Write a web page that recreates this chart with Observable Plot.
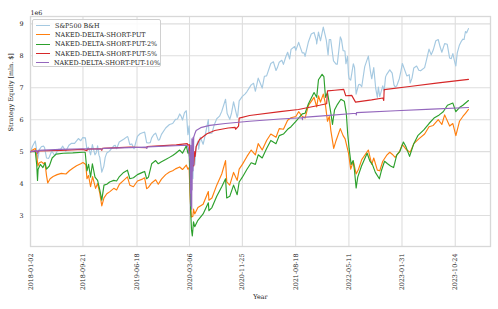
<!DOCTYPE html>
<html><head><meta charset="utf-8">
<script src="https://cdn.jsdelivr.net/npm/d3@7"></script>
<script src="https://cdn.jsdelivr.net/npm/@observablehq/plot@0.6"></script>
<style>
body{margin:0;background:#fff;}
#wrap{position:relative;width:498px;height:309px;font-family:"DejaVu Serif",serif;}
#legend{position:absolute;left:32px;top:19px;width:129px;height:48px;border:1px solid #d0d0d0;border-radius:2px;background:rgba(255,255,255,0.85);box-sizing:border-box;padding-top:1px;}
.row{height:9.3px;display:flex;align-items:center;font-size:6.4px;color:#222;white-space:nowrap;}
.sw{display:inline-block;width:14px;margin-left:3px;margin-right:5px;border-top:1.5px solid;}
</style></head><body><div id="wrap"></div><script>
const seriesNames = ["S&P500 B&H","NAKED-DELTA-SHORT-PUT","NAKED-DELTA-SHORT-PUT-2%","NAKED-DELTA-SHORT-PUT-5%","NAKED-DELTA-SHORT-PUT-10%"];
const seriesColors = ["#a5c9e1","#ff7f0e","#2ca02c","#d62728","#9467bd"];
const xTickLabels = ["2018-01-02","2018-09-21","2019-06-18","2020-03-06","2020-11-25","2021-08-18","2022-05-11","2023-01-31","2023-10-24"];
const yTicks = [3,4,5,6,7,8,9];

const spDates = ["2018-01-02","2018-01-12","2018-01-26","2018-02-08","2018-02-16","2018-02-26","2018-03-09","2018-03-23","2018-04-06","2018-04-18","2018-05-03","2018-05-21","2018-06-12","2018-06-27","2018-07-13","2018-07-26","2018-08-10","2018-08-29","2018-09-20","2018-10-03","2018-10-11","2018-10-18","2018-10-29","2018-11-07","2018-11-20","2018-12-03","2018-12-14","2018-12-24","2019-01-03","2019-01-18","2019-02-01","2019-02-22","2019-03-08","2019-03-21","2019-04-12","2019-04-30","2019-05-13","2019-06-03","2019-06-20","2019-07-15","2019-07-26","2019-08-05","2019-08-14","2019-08-30","2019-09-19","2019-10-02","2019-10-18","2019-11-08","2019-11-27","2019-12-13","2019-12-27","2020-01-17","2020-01-31","2020-02-19","2020-02-27","2020-03-04","2020-03-09","2020-03-12","2020-03-16","2020-03-23","2020-03-26","2020-04-01","2020-04-17","2020-05-13","2020-06-08","2020-06-11","2020-06-26","2020-07-20","2020-08-14","2020-09-02","2020-09-23","2020-10-12","2020-10-30","2020-11-09","2020-11-25","2020-12-18","2021-01-08","2021-01-29","2021-02-12","2021-03-04","2021-03-26","2021-04-16","2021-05-12","2021-05-28","2021-06-18","2021-07-09","2021-07-26","2021-08-19","2021-09-02","2021-09-20","2021-10-04","2021-10-21","2021-11-18","2021-12-01","2021-12-10","2021-12-20","2022-01-03","2022-01-27","2022-02-09","2022-02-23","2022-03-08","2022-03-29","2022-04-12","2022-04-21","2022-05-09","2022-05-20","2022-06-02","2022-06-16","2022-06-28","2022-07-14","2022-08-16","2022-09-02","2022-09-12","2022-09-30","2022-10-12","2022-10-27","2022-11-15","2022-12-01","2022-12-13","2022-12-28","2023-01-18","2023-02-02","2023-02-24","2023-03-13","2023-03-31","2023-04-25","2023-05-24","2023-06-15","2023-07-06","2023-07-31","2023-08-18","2023-09-01","2023-09-26","2023-10-12","2023-10-27","2023-11-14","2023-12-01","2023-12-14","2023-12-29"];
const spVals = [5.00,5.17,5.33,4.79,5.07,5.16,5.17,4.80,4.83,5.02,4.88,5.07,5.17,5.01,5.20,5.26,5.26,5.41,5.44,5.43,5.06,5.14,4.90,5.22,4.90,5.18,4.82,4.36,4.54,4.96,5.02,5.18,5.09,5.30,5.39,5.47,5.22,5.09,5.48,5.59,5.61,5.28,5.27,5.43,5.58,5.36,5.54,5.74,5.85,5.88,6.01,6.18,5.99,6.28,5.53,5.81,5.10,4.60,4.43,4.15,4.88,4.58,5.33,5.23,6.00,5.57,5.58,6.03,6.26,6.64,6.01,6.56,6.07,6.59,6.73,6.88,7.09,6.89,7.30,6.99,7.37,7.76,7.54,7.80,7.73,8.11,8.20,8.17,8.42,8.09,7.98,8.44,8.73,8.37,8.74,8.47,8.90,8.03,8.51,7.84,7.74,8.59,8.16,8.15,7.40,7.24,7.75,6.80,7.09,7.03,7.99,7.28,7.63,6.70,6.72,7.06,7.41,7.56,7.46,7.02,7.29,7.76,7.37,7.15,7.62,7.55,7.63,8.21,8.18,8.51,8.11,8.38,7.93,8.07,7.68,8.34,8.52,8.76,8.85];
const spExtraDates = ["2018-03-13","2018-04-02","2018-06-01","2018-09-10","2018-11-26","2018-12-10","2019-01-10","2019-03-01","2019-05-03","2019-05-23","2019-07-03","2019-08-23","2019-09-09","2019-10-08","2020-01-06","2020-01-24","2020-02-10","2020-03-02","2020-03-18","2020-04-09","2020-04-21","2020-04-29","2020-05-22","2020-07-07","2020-08-03","2020-09-10","2020-10-02","2020-11-02","2020-12-09","2021-01-20","2021-02-25","2021-03-15","2021-04-29","2021-05-19","2021-06-10","2021-06-30","2021-07-19","2021-08-13","2021-09-10","2021-09-29","2021-11-04","2021-11-30","2022-01-18","2022-02-02","2022-03-14","2022-04-04","2022-04-26","2022-05-04","2022-05-12","2022-06-08","2022-07-05","2022-07-29","2022-08-26","2022-09-22","2022-10-05","2022-11-03","2022-11-10","2022-12-22","2023-01-05","2023-01-26","2023-03-08","2023-03-22","2023-04-14","2023-05-04","2023-06-01","2023-06-26","2023-07-19","2023-08-09","2023-09-14","2023-10-04","2023-10-20","2023-11-03","2023-11-24","2023-12-07","2023-12-20"];
const spExtraVals = [5.13,4.79,5.07,5.34,4.96,4.89,4.82,5.20,5.46,5.24,5.56,5.28,5.53,5.37,6.02,6.11,6.22,5.73,4.45,5.18,5.08,5.45,5.48,5.83,6.11,6.19,6.21,6.14,6.81,7.14,7.10,7.36,7.81,7.63,7.86,7.97,7.90,8.29,8.27,8.09,8.68,8.47,8.49,8.51,7.74,8.50,7.75,7.98,7.29,7.63,7.11,7.66,7.53,6.97,7.02,6.90,7.34,7.09,7.06,7.53,7.41,7.30,7.68,7.53,7.83,8.03,8.47,8.29,8.36,7.91,7.84,8.09,8.46,8.51,8.72];

const ndDates = ["2018-01-02","2018-01-12","2018-01-26","2018-02-02","2018-02-08","2018-02-15","2018-02-26","2018-03-09","2018-03-15","2018-03-23","2018-03-29","2018-04-10","2018-04-25","2018-05-15","2018-06-05","2018-06-28","2018-07-15","2018-08-01","2018-08-20","2018-09-10","2018-09-21","2018-10-05","2018-10-11","2018-10-19","2018-10-29","2018-11-08","2018-11-23","2018-12-03","2018-12-14","2018-12-24","2019-01-04","2019-01-18","2019-02-01","2019-02-22","2019-03-08","2019-03-22","2019-04-12","2019-05-01","2019-05-13","2019-05-31","2019-06-20","2019-07-15","2019-07-26","2019-08-05","2019-08-14","2019-08-30","2019-09-19","2019-10-02","2019-10-18","2019-11-08","2019-11-27","2019-12-13","2019-12-27","2020-01-17","2020-01-31","2020-02-19","2020-02-27","2020-03-04","2020-03-09","2020-03-12","2020-03-16","2020-03-23","2020-03-26","2020-04-01","2020-04-17","2020-05-13","2020-06-08","2020-06-11","2020-06-26","2020-07-20","2020-08-14","2020-09-02","2020-09-08","2020-09-23","2020-10-12","2020-10-30","2020-11-09","2020-11-25","2020-12-18","2021-01-08","2021-01-29","2021-02-12","2021-03-04","2021-03-26","2021-04-16","2021-05-12","2021-05-28","2021-06-18","2021-07-09","2021-07-26","2021-08-19","2021-09-02","2021-09-20","2021-10-04","2021-10-21","2021-11-18","2021-12-01","2021-12-10","2021-12-20","2022-01-03","2022-01-12","2022-01-24","2022-02-02","2022-02-10","2022-02-24","2022-03-08","2022-03-29","2022-04-12","2022-04-22","2022-05-09","2022-05-20","2022-06-02","2022-06-16","2022-06-28","2022-07-14","2022-08-16","2022-09-02","2022-09-12","2022-09-30","2022-10-12","2022-10-27","2022-11-15","2022-12-01","2022-12-13","2022-12-28","2023-01-18","2023-02-02","2023-02-24","2023-03-13","2023-03-31","2023-04-25","2023-05-24","2023-06-15","2023-07-06","2023-07-31","2023-08-18","2023-09-01","2023-09-26","2023-10-12","2023-10-27","2023-11-14","2023-12-01","2023-12-14","2023-12-29"];
const ndVals = [5.00,5.05,5.10,4.90,4.55,4.65,4.68,4.62,4.66,4.25,4.02,4.15,4.22,4.28,4.32,4.30,4.40,4.48,4.56,4.62,4.66,4.60,4.15,4.25,3.90,4.22,3.85,4.00,3.70,3.30,3.55,3.68,3.74,3.85,3.80,3.98,4.10,4.21,3.95,3.90,4.08,4.14,4.18,3.84,3.88,4.02,4.12,3.98,4.14,4.28,4.36,4.40,4.46,4.52,4.44,4.58,4.45,4.50,3.60,3.25,2.95,2.98,3.20,3.05,3.25,3.35,3.75,3.48,3.55,3.95,4.30,4.72,4.05,3.95,4.35,4.10,4.45,4.60,4.85,5.05,4.90,5.25,5.05,5.35,5.55,5.45,5.72,5.70,5.98,6.06,6.10,6.25,6.10,6.05,6.45,6.70,6.40,6.75,6.55,6.80,6.55,5.95,6.10,5.65,5.10,5.35,5.72,5.50,5.40,4.95,4.45,4.70,4.30,4.45,4.75,5.05,4.60,4.80,4.42,4.40,4.70,4.88,4.98,4.92,4.82,5.00,5.22,5.05,4.98,5.25,5.40,5.55,5.78,5.82,6.00,5.85,6.15,5.80,5.88,5.50,5.95,6.10,6.20,6.32];

const nd2Dates = ["2018-01-02","2018-01-26","2018-02-02","2018-02-06","2018-02-09","2018-02-20","2018-03-05","2018-03-16","2018-03-23","2018-04-06","2018-04-20","2018-05-10","2018-06-15","2018-08-01","2018-09-21","2018-10-02","2018-10-11","2018-10-19","2018-10-29","2018-11-07","2018-11-20","2018-12-03","2018-12-14","2018-12-24","2019-01-04","2019-01-18","2019-02-01","2019-02-22","2019-03-08","2019-03-22","2019-04-12","2019-05-01","2019-05-13","2019-05-31","2019-06-20","2019-07-15","2019-07-26","2019-08-05","2019-08-14","2019-08-30","2019-09-19","2019-10-02","2019-10-18","2019-11-08","2019-11-27","2019-12-13","2019-12-27","2020-01-17","2020-01-31","2020-02-19","2020-02-27","2020-03-04","2020-03-09","2020-03-12","2020-03-16","2020-03-20","2020-03-26","2020-04-01","2020-04-17","2020-05-13","2020-06-08","2020-06-11","2020-06-26","2020-07-20","2020-08-14","2020-09-02","2020-09-08","2020-09-23","2020-10-12","2020-10-30","2020-11-09","2020-11-25","2020-12-18","2021-01-08","2021-01-29","2021-02-12","2021-03-04","2021-03-26","2021-04-16","2021-05-12","2021-05-28","2021-06-18","2021-07-09","2021-07-26","2021-08-19","2021-09-02","2021-09-20","2021-10-04","2021-10-21","2021-11-18","2021-12-01","2021-12-10","2021-12-28","2022-01-06","2022-01-14","2022-01-24","2022-02-01","2022-02-10","2022-02-18","2022-02-28","2022-03-15","2022-04-01","2022-04-18","2022-04-28","2022-05-05","2022-05-12","2022-05-22","2022-06-01","2022-06-08","2022-06-16","2022-06-24","2022-07-13","2022-08-10","2022-08-24","2022-09-05","2022-09-20","2022-10-10","2022-10-20","2022-11-05","2022-11-20","2022-12-05","2022-12-20","2023-01-05","2023-01-20","2023-02-07","2023-02-20","2023-03-10","2023-03-31","2023-04-20","2023-05-20","2023-06-15","2023-07-10","2023-08-05","2023-08-25","2023-09-15","2023-10-12","2023-10-27","2023-11-14","2023-12-01","2023-12-29"];
const nd2Vals = [5.00,5.00,4.60,4.10,4.45,4.60,4.50,4.65,4.45,4.55,4.80,4.92,4.95,4.96,4.98,4.98,4.40,4.60,4.20,4.62,4.20,4.10,3.80,3.48,3.95,3.98,4.05,4.10,4.08,4.22,4.35,4.42,4.15,4.18,4.28,4.35,4.38,4.15,4.20,4.62,4.72,4.62,4.68,4.75,4.82,4.88,4.94,5.05,4.95,5.18,4.95,5.05,3.90,3.10,2.55,2.36,2.80,2.65,2.85,3.05,3.40,3.15,3.25,3.60,3.90,4.15,3.55,3.60,3.95,3.65,4.05,4.20,4.45,4.65,4.60,4.90,4.80,5.10,5.35,5.25,5.50,5.55,5.70,5.78,5.95,6.05,6.18,6.20,6.50,6.85,6.70,7.25,7.42,7.35,6.70,6.85,6.55,6.20,5.85,6.30,6.48,6.64,6.58,6.20,5.55,5.10,4.60,4.72,4.40,3.86,4.20,4.55,4.95,4.70,4.60,4.35,4.15,4.40,4.70,4.62,4.55,4.50,4.90,5.00,5.30,5.15,4.85,5.25,5.50,5.68,5.88,6.05,6.15,6.25,6.45,6.52,6.25,6.38,6.45,6.60];

const nd5Dates = ["2018-01-02","2018-02-05","2018-02-07","2018-02-09","2018-06-01","2018-09-21","2018-10-11","2018-10-13","2018-12-20","2018-12-24","2018-12-27","2019-05-15","2019-08-05","2019-08-07","2019-12-31","2020-02-24","2020-02-27","2020-03-05","2020-03-09","2020-03-12","2020-03-16","2020-03-18","2020-03-20","2020-03-24","2020-03-27","2020-04-01","2020-04-03","2020-04-08","2020-04-25","2020-06-01","2020-07-10","2020-09-15","2020-10-20","2020-10-22","2020-11-06","2020-11-09","2020-12-31","2021-06-01","2021-09-01","2021-12-15","2022-01-20","2022-01-24","2022-03-01","2022-04-15","2022-04-25","2022-05-25","2022-06-13","2022-09-01","2022-10-28","2022-11-01","2022-11-03","2023-03-10","2023-08-01","2023-12-29"];
const nd5Vals = [5.00,5.02,4.95,5.02,5.04,5.07,5.03,5.08,5.09,5.04,5.10,5.14,5.12,5.16,5.21,5.25,5.20,5.22,4.90,4.55,4.35,4.70,4.40,4.80,4.55,5.00,4.85,5.15,5.38,5.56,5.66,5.74,5.76,5.70,5.80,6.05,6.13,6.25,6.32,6.45,6.50,6.90,6.92,6.95,6.75,6.76,6.55,6.62,6.68,6.60,6.94,7.04,7.15,7.26];

const nd10Dates = ["2018-01-02","2018-01-29","2018-02-06","2018-02-09","2018-06-01","2018-10-01","2018-12-24","2019-01-02","2019-08-01","2019-08-06","2019-08-08","2020-02-21","2020-02-28","2020-03-09","2020-03-11","2020-03-12","2020-03-13","2020-03-16","2020-03-17","2020-03-18","2020-03-19","2020-03-20","2020-03-23","2020-03-24","2020-03-25","2020-03-27","2020-04-01","2020-04-08","2020-05-01","2020-06-15","2020-09-01","2020-12-31","2021-06-01","2021-09-20","2021-09-21","2021-09-23","2022-01-01","2022-06-16","2022-06-17","2022-06-18","2022-12-31","2023-06-30","2023-12-29"];
const nd10Vals = [5.00,5.03,4.95,5.04,5.07,5.09,5.08,5.10,5.14,5.10,5.15,5.20,5.15,4.70,3.70,5.20,3.30,5.00,3.20,5.40,3.80,5.10,4.40,5.45,4.60,5.45,5.55,5.66,5.75,5.82,5.88,5.95,6.02,6.06,6.00,6.07,6.12,6.20,6.15,6.22,6.28,6.33,6.38];

const parse = d3.utcParse("%Y-%m-%d");
const sources = [[spDates.concat(spExtraDates), spVals.concat(spExtraVals)],[ndDates, ndVals],[nd2Dates, nd2Vals],[nd5Dates, nd5Vals],[nd10Dates, nd10Vals]];
const rows = sources.flatMap(([ds, vs], k) => ds.map((d, i) => ({date: parse(d), value: vs[i], series: seriesNames[k]})))
  .sort((a, b) => a.date - b.date);
const tickDates = xTickLabels.map(parse);

const chart = Plot.plot({
  width: 498, height: 309,
  marginLeft: 30, marginRight: 8, marginTop: 16, marginBottom: 63,
  style: {fontFamily: "DejaVu Serif", fontSize: "6.4px", background: "white", color: "#222", overflow: "visible"},
  x: {type: "utc", domain: [parse("2018-01-02"), parse("2024-04-17")], label: null},
  y: {domain: [2.03, 9.23], label: null},
  color: {domain: seriesNames, range: seriesColors},
  marks: [
    Plot.gridX(tickDates, {stroke: "#dedede", strokeOpacity: 1, strokeWidth: 1.1}),
    Plot.gridY(yTicks, {stroke: "#dedede", strokeOpacity: 1, strokeWidth: 1.1}),
    Plot.frame({stroke: "#d8d8d8", strokeWidth: 1.3}),
    Plot.axisX(tickDates, {tickFormat: d3.utcFormat("%Y-%m-%d"), tickRotate: -90, tickSize: 0, tickPadding: 7, label: null}),
    Plot.axisY(yTicks, {tickSize: 0, tickPadding: 7, tickFormat: d => String(d), label: null}),
    ...seriesNames.map(s => Plot.line(rows.filter(r => r.series === s), {x: "date", y: "value", stroke: "series", strokeWidth: 1.15, curve: "linear"})),
    Plot.text(["1e6"], {frameAnchor: "top-left", dy: -6, textAnchor: "start"}),
    Plot.text(["Strategy Equity [mln. $]"], {frameAnchor: "left", rotate: -90, dx: -20}),
    Plot.text(["Year"], {frameAnchor: "bottom", dy: 52})
  ]
});
const wrap = document.getElementById("wrap");
wrap.appendChild(chart);
const leg = document.createElement("div");
leg.id = "legend";
seriesNames.forEach((s, i) => {
  const r = document.createElement("div"); r.className = "row";
  const sw = document.createElement("span"); sw.className = "sw"; sw.style.borderTopColor = seriesColors[i];
  const t = document.createElement("span"); t.textContent = s;
  r.appendChild(sw); r.appendChild(t); leg.appendChild(r);
});
wrap.appendChild(leg);
</script></body></html>
